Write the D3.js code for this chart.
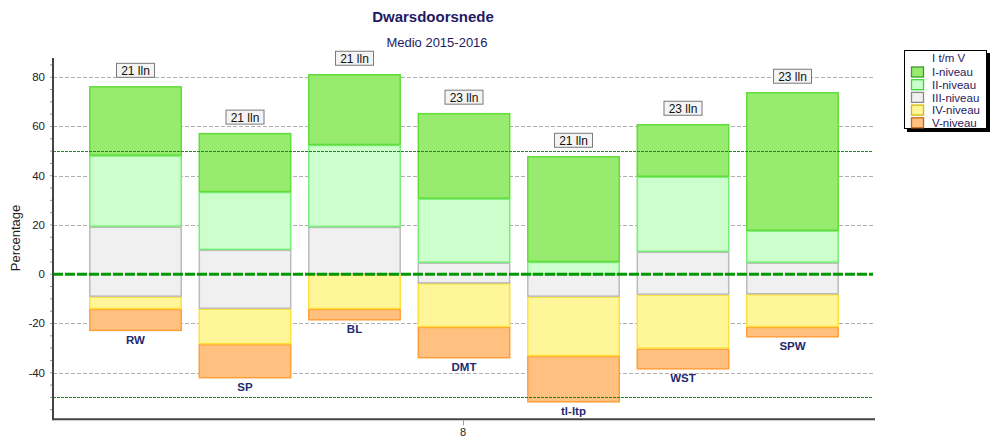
<!DOCTYPE html>
<html><head><meta charset="utf-8">
<script src="https://cdn.jsdelivr.net/npm/d3@7"></script>
<style>body{margin:0;background:#fff;}svg{display:block;font-family:Arial,"Liberation Sans",sans-serif;}</style>
</head><body><svg id="c" width="1000" height="445"></svg>
<script>
const categories = ["RW","SP","BL","DMT","tl-ltp","WST","SPW"];
const countLabels = ["21 lln","21 lln","21 lln","23 lln","21 lln","23 lln","23 lln"];
const levelNames = ["I-niveau","II-niveau","III-niveau","IV-niveau","V-niveau"];
const niveauI   = [28.1, 23.9, 28.7, 34.7, 42.9, 21.3, 56.2];
const niveauII  = [28.9, 23.5, 33.3, 26.0,  5.0, 30.5, 13.0];
const niveauIII = [28.4, 23.9, 19.2,  8.4,  9.1, 17.4, 12.8];
const niveauIV  = [ 5.0, 14.4, 14.1, 17.7, 24.1, 21.9, 13.3];
const niveauV   = [ 8.9, 13.8,  4.6, 12.7, 18.8,  8.4,  4.2];
const bottoms   = [-23.0, -42.2, -18.7, -34.1, -52.0, -38.6, -25.6];
const yTicks = [-40, -20, 0, 20, 40, 60, 80];
const refLines = [50, -50];
const xTickLabel = "8";

const fills   = ["#97eb6f","#ccffcc","#f0f0f0","#fff599","#ffc080"];
const strokes = ["#62dc38","#77ee77","#bbbbbb","#ffe13a","#ff9f3a"];
const legStrokes = ["#3f9a2a","#33dd33","#888888","#d8b800","#c4661a"];

const svg = d3.select("#c");
const L = 53, R = 875, T = 58, B = 419.3;
const y = d3.scaleLinear().domain([-58.9, 87.8]).range([B, T]);
const x = d3.scaleBand().domain(categories).range([L, R]).paddingInner(0.156).paddingOuter(0.3315);

// minor ticks
const minor = d3.range(-55, 90, 5);
svg.append("g").selectAll("line").data(minor).join("line")
  .attr("x1", L-3).attr("x2", L).attr("y1", d=>y(d)).attr("y2", d=>y(d))
  .attr("stroke", "#999").attr("stroke-width", 1);

// gridlines
svg.append("g").selectAll("line").data(yTicks).join("line")
  .attr("x1", L).attr("x2", 873).attr("y1", d=>Math.round(y(d))+0.5).attr("y2", d=>Math.round(y(d))+0.5)
  .attr("stroke", "#b0b0b0").attr("stroke-dasharray", "4,2");

// tick labels
svg.append("g").selectAll("text").data(yTicks).join("text")
  .attr("x", L-8).attr("y", d=>y(d)+4).attr("text-anchor","end")
  .attr("font-size", 11.5).attr("fill", "#222").text(d=>d);

// stacks
const levels = [niveauV, niveauIV, niveauIII, niveauII, niveauI];
const levelIdx = [4,3,2,1,0];
const segs = [];
categories.forEach((c,i)=>{
  let base = bottoms[i];
  levels.forEach((arr,k)=>{
    segs.push({c, lo: base, hi: base+arr[i], lvl: levelIdx[k]});
    base += arr[i];
  });
});
svg.append("g").selectAll("rect").data(segs).join("rect")
  .attr("x", d=>x(d.c)+0.5).attr("width", x.bandwidth()-1)
  .attr("y", d=>y(d.hi)+0.5).attr("height", d=>Math.max(0, y(d.lo)-y(d.hi)-1))
  .attr("fill", d=>fills[d.lvl]).attr("stroke", d=>strokes[d.lvl]).attr("stroke-width", 1.5);

// reference lines
svg.append("g").selectAll("line").data(refLines).join("line")
  .attr("x1", L).attr("x2", 873).attr("y1", d=>Math.round(y(d))+0.5).attr("y2", d=>Math.round(y(d))+0.5)
  .attr("stroke", "#2a802a").attr("stroke-dasharray", "3,1");

// zero line
svg.append("line").attr("x1", L).attr("x2", 873).attr("y1", y(0)).attr("y2", y(0))
  .attr("stroke", "#009900").attr("stroke-width", 3).attr("stroke-dasharray", "10,2");

// count labels
const tops = categories.map((c,i)=>bottoms[i]+niveauI[i]+niveauII[i]+niveauIII[i]+niveauIV[i]+niveauV[i]);
const cl = svg.append("g").selectAll("g").data(categories).join("g")
  .attr("transform", (c,i)=>`translate(${x(c)+x.bandwidth()/2},${y(tops[i])-16})`);
cl.append("rect").attr("x",-19).attr("y",-7).attr("width",38).attr("height",14)
  .attr("fill","#f4f4f4").attr("stroke","#7a7a7a");
cl.append("text").attr("y",4.5).attr("text-anchor","middle").attr("font-size",12).attr("fill","#111")
  .text((c,i)=>countLabels[i]);

// category labels
svg.append("g").selectAll("text").data(categories).join("text")
  .attr("x", c=>x(c)+x.bandwidth()/2).attr("y", (c,i)=>y(bottoms[i])+13)
  .attr("text-anchor","middle").attr("font-size",11.5).attr("font-weight","bold").attr("fill","#1f2a70")
  .text(c=>c);

// axes lines
svg.append("line").attr("x1",L).attr("x2",L).attr("y1",T).attr("y2",B+1).attr("stroke","#444").attr("stroke-width",2);
svg.append("line").attr("x1",L).attr("x2",R).attr("y1",B).attr("y2",B).attr("stroke","#444").attr("stroke-width",2);
svg.append("line").attr("x1",463.5).attr("x2",463.5).attr("y1",B+1).attr("y2",B+6).attr("stroke","#999");
svg.append("text").attr("x",463).attr("y",436).attr("text-anchor","middle").attr("font-size",11).attr("fill","#222").text(xTickLabel);

// y axis title
svg.append("text").attr("transform","translate(20,238) rotate(-90)").attr("text-anchor","middle")
  .attr("font-size",13).attr("fill","#222").text("Percentage");

// titles
svg.append("text").attr("x",433).attr("y",22).attr("text-anchor","middle").attr("font-size",15)
  .attr("font-weight","bold").attr("fill","#1e1a66").text("Dwarsdoorsnede");
svg.append("text").attr("x",437).attr("y",47).attr("text-anchor","middle").attr("font-size",13)
  .attr("fill","#1e1a66").text("Medio 2015-2016");

// legend
const lg = svg.append("g");
lg.append("rect").attr("x",907).attr("y",53).attr("width",83).attr("height",79).attr("fill","#000");
lg.append("rect").attr("x",904.5).attr("y",50.5).attr("width",82).attr("height",78).attr("fill","#fff").attr("stroke","#000");
lg.append("text").attr("x",932).attr("y",61.5).attr("font-size",11.5).attr("fill","#2a1a5e").text("I t/m V");
levelNames.forEach((n,i)=>{
  const yy = 72 + i*12.7;
  lg.append("rect").attr("x",911.5).attr("y",yy-5).attr("width",12).attr("height",10)
    .attr("fill",fills[i]).attr("stroke",legStrokes[i]).attr("stroke-width",1.3);
  lg.append("text").attr("x",932).attr("y",yy+4.2).attr("font-size",11.5).attr("fill","#2a1a5e").text(n);
});
</script></body></html>
